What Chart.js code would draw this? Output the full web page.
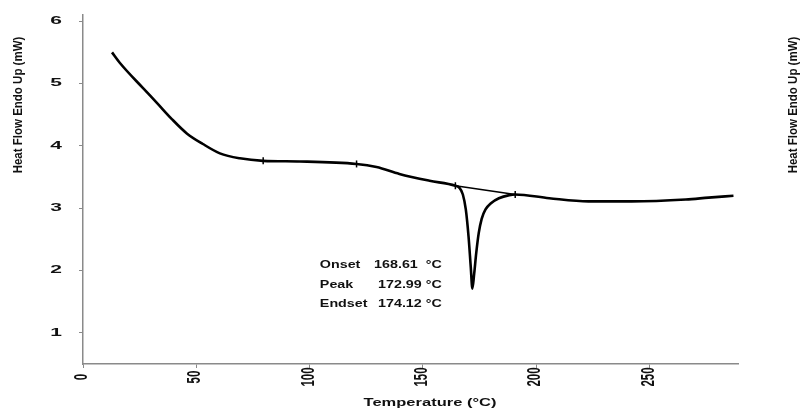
<!DOCTYPE html>
<html>
<head>
<meta charset="utf-8">
<script src="https://cdn.jsdelivr.net/npm/chart.js@4"></script>
<style>
  html, body { margin: 0; padding: 0; background: #fff; }
  #wrap { width: 808px; height: 412px; }
</style>
</head>
<body>
<div id="wrap"><canvas id="dscChart"></canvas></div>
<script>
// DSC curve
const tempC = [12.8, 16.3, 26.4, 32.6, 39.2, 45.8, 52.9, 60.4, 69.2, 79.5, 95.6, 120.7, 129.5, 139.6, 152.9, 164.3,
  166.0, 167.6, 168.9, 170.1, 171.1, 171.8, 172.6, 173.5, 174.6, 175.9, 177.6, 180.0, 183.5, 188.1, 190.7,
  205.7, 223, 242, 266, 276, 287];
const heatFlow = [5.50, 5.33, 4.93, 4.69, 4.43, 4.20, 4.03, 3.88, 3.80, 3.76, 3.75, 3.71, 3.66, 3.55, 3.44, 3.36,
  3.33, 3.22, 2.98, 2.55, 2.05, 1.71, 1.95, 2.28, 2.60, 2.83, 2.98, 3.08, 3.16, 3.21, 3.22,
  3.16, 3.11, 3.11, 3.14, 3.17, 3.20];

// baseline drawn under the peak (onset -> endset)
const baseX = [164.3, 190.7];
const baseY = [3.36, 3.22];

// small vertical marks on the curve
const markX = [79.5, 120.7, 164.3, 190.7];
const markY = [3.76, 3.71, 3.36, 3.22];

const xTicks = [0, 50, 100, 150, 200, 250];
const yTicks = [1, 2, 3, 4, 5, 6];

const noteLabels = ['Onset', 'Peak', 'Endset'];
const noteValues = ['168.61  \u00B0C', '172.99 \u00B0C', '174.12 \u00B0C'];

const yTitle = 'Heat Flow Endo Up (mW)';
const xTitle = 'Temperature (\u00B0C)';

const FONT = '"Liberation Sans", Arial, sans-serif';
const AXIS_GREY = '#8a8a8a';

const toPts = (xs, ys) => xs.map((x, i) => ({ x: x, y: ys[i] }));

// the scanned original is squeezed vertically, so its text comes out wide:
// draw text with a horizontal stretch
function wideText(c, txt, x, y, sx, align) {
  c.save();
  c.translate(x, y);
  c.scale(sx, 1);
  c.textAlign = align;
  c.fillText(txt, 0, 0);
  c.restore();
}

const textPlugin = {
  id: 'dscText',
  afterDraw(chart) {
    const c = chart.ctx;
    const xs = chart.scales.x, ys = chart.scales.y;
    c.save();
    c.fillStyle = '#111';
    c.textBaseline = 'middle';

    // y tick labels
    c.font = 'bold 10.5px ' + FONT;
    ys.ticks.forEach(t => {
      wideText(c, String(t.value), 56, ys.getPixelForValue(t.value), 2.0, 'center');
    });

    // x tick labels, turned to read bottom-up
    c.font = 'bold 11.5px ' + FONT;
    xs.ticks.forEach(t => {
      c.save();
      c.translate(xs.getPixelForValue(t.value) - 1, 377);
      c.rotate(-Math.PI / 2);
      c.scale(1, 1.6);
      c.textAlign = 'center';
      c.fillText(String(t.value), 0, 0);
      c.restore();
    });

    // left and right y titles (the right one belongs to the next panel)
    c.font = 'bold 11.5px ' + FONT;
    [18, 793].forEach(px => {
      c.save();
      c.translate(px, 105);
      c.rotate(-Math.PI / 2);
      c.scale(1, 1.15);
      c.textAlign = 'center';
      c.fillText(yTitle, 0, 0);
      c.restore();
    });

    // x title
    c.font = 'bold 11px ' + FONT;
    wideText(c, xTitle, 430, 403, 1.5, 'center');

    // note block: labels left, values right aligned
    const rows = [2.09, 1.77, 1.47];
    c.font = 'bold 11px ' + FONT;
    noteLabels.forEach((lab, i) => {
      const py = ys.getPixelForValue(rows[i]);
      wideText(c, lab, xs.getPixelForValue(104.5), py, 1.3, 'left');
      wideText(c, noteValues[i], xs.getPixelForValue(158.3), py, 1.3, 'right');
    });
    c.restore();
  }
};

new Chart(document.getElementById('dscChart'), {
  type: 'line',
  data: {
    datasets: [
      {
        data: toPts(tempC, heatFlow),
        borderColor: '#000',
        borderWidth: 2.6,
        pointRadius: 0,
        cubicInterpolationMode: 'monotone',
        fill: false
      },
      {
        data: toPts(baseX, baseY),
        borderColor: '#000',
        borderWidth: 1.5,
        pointRadius: 0,
        tension: 0,
        fill: false
      },
      {
        data: toPts(markX, markY),
        showLine: false,
        pointStyle: 'line',
        rotation: 90,
        pointRadius: 3.5,
        borderColor: '#000',
        borderWidth: 1.5
      }
    ]
  },
  options: {
    responsive: true,
    maintainAspectRatio: false,
    animation: false,
    layout: { padding: { left: 0, right: 70, top: 15, bottom: 0 } },
    plugins: {
      legend: { display: false },
      tooltip: { enabled: false }
    },
    scales: {
      x: {
        type: 'linear',
        min: 0,
        max: 289,
        afterBuildTicks: s => { s.ticks = xTicks.map(v => ({ value: v })); },
        afterFit: s => { s.height = 48; },
        border: { color: AXIS_GREY, width: 1.5 },
        grid: { drawOnChartArea: false, color: AXIS_GREY, tickLength: 4 },
        ticks: { display: false }
      },
      y: {
        min: 0.5,
        max: 6.1,
        afterBuildTicks: s => { s.ticks = yTicks.map(v => ({ value: v })); },
        afterFit: s => { s.width = 83; },
        border: { color: AXIS_GREY, width: 1.5 },
        grid: { drawOnChartArea: false, color: AXIS_GREY, tickLength: 4 },
        ticks: { display: false }
      }
    }
  },
  plugins: [textPlugin]
});
</script>
</body>
</html>
